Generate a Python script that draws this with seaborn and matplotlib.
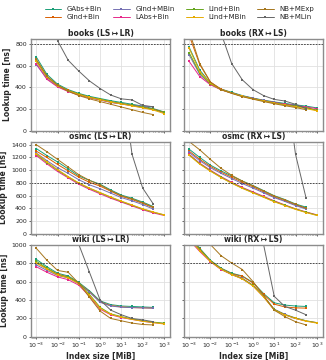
import numpy as np
import pandas as pd
import matplotlib
matplotlib.use("Agg")
import matplotlib.pyplot as plt
import seaborn as sns

nan = np.nan

# Index sizes [MiB] (half-decade grid)
sizes = [0.001, 0.00316, 0.01, 0.0316, 0.1, 0.316, 1, 3.16, 10, 31.6, 100, 316, 1000]

methods = ["GAbs+Bin", "GInd+Bin", "GInd+MBin", "LAbs+Bin",
           "LInd+Bin", "LInd+MBin", "NB+MExp", "NB+MLin"]

# Lookup time [ns] per panel
books_ls_lr = {
    "GAbs+Bin":  [680, 520, 430, 380, 345, 318, 298, 278, 262, 245, 228, 205, 175],
    "GInd+Bin":  [650, 500, 420, 372, 338, 310, 290, 268, 252, 236, 218, 200, 172],
    "GInd+MBin": [610, 480, 410, 365, 330, 305, 285, 262, 248, 238, 228, 222, nan],
    "LAbs+Bin":  [620, 475, 405, 362, 330, 305, 285, 264, 248, 232, 215, 198, 168],
    "LInd+Bin":  [640, 495, 418, 370, 336, 310, 290, 270, 252, 235, 218, 198, 170],
    "LInd+MBin": [645, 498, 415, 368, 335, 308, 288, 265, 248, 230, 212, 192, 160],
    "NB+MExp":   [660, 505, 420, 365, 325, 295, 270, 245, 220, 195, 170, 150, nan],
    "NB+MLin":   [nan, 1500, 830, 650, 550, 460, 390, 330, 295, 285, 235, 222, nan],
}
books_rx_ls = {
    "GAbs+Bin":  [770, 560, 440, 385, 355, 325, 302, 283, 267, 253, 240, 228, 212],
    "GInd+Bin":  [880, 610, 450, 385, 350, 320, 298, 278, 260, 245, 230, 215, 190],
    "GInd+MBin": [700, 520, 430, 380, 350, 322, 300, 280, 262, 248, 235, 220, nan],
    "LAbs+Bin":  [640, 500, 425, 378, 348, 320, 298, 278, 260, 246, 232, 220, 205],
    "LInd+Bin":  [720, 530, 435, 380, 350, 320, 298, 277, 258, 242, 228, 212, 190],
    "LInd+MBin": [760, 545, 438, 380, 348, 318, 295, 275, 255, 238, 222, 205, 185],
    "NB+MExp":   [920, 620, 450, 380, 345, 315, 292, 270, 250, 232, 215, 195, nan],
    "NB+MLin":   [nan, nan, 1800, 900, 620, 470, 380, 325, 290, 275, 245, 205, nan],
}
osmc_ls_lr = {
    "GAbs+Bin":  [1340, 1230, 1130, 1020, 910, 840, 780, 690, 610, 560, 500, 430, nan],
    "GInd+Bin":  [1300, 1200, 1090, 990, 890, 810, 750, 670, 590, 540, 480, 410, nan],
    "GInd+MBin": [1270, 1150, 1040, 950, 850, 770, 710, 640, 570, 520, 460, 390, nan],
    "LAbs+Bin":  [1230, 1100, 980, 880, 780, 700, 630, 560, 500, 440, 380, 330, 290],
    "LInd+Bin":  [1250, 1120, 1000, 895, 795, 715, 645, 575, 510, 450, 390, 340, 300],
    "LInd+MBin": [1260, 1130, 1010, 900, 800, 720, 650, 580, 515, 455, 395, 345, 300],
    "NB+MExp":   [1400, 1290, 1170, 1050, 930, 840, 770, 680, 600, 550, 490, 420, nan],
    "NB+MLin":   [nan, nan, nan, nan, nan, nan, nan, nan, 2500, 1250, 720, 470, nan],
}
osmc_rx_ls = {
    "GAbs+Bin":  [1330, 1200, 1080, 990, 910, 830, 760, 680, 600, 540, 470, 420, nan],
    "GInd+Bin":  [1300, 1170, 1060, 970, 890, 810, 740, 660, 580, 520, 455, 400, nan],
    "GInd+MBin": [1280, 1150, 1040, 950, 870, 790, 720, 645, 570, 510, 445, 390, nan],
    "LAbs+Bin":  [1250, 1110, 1000, 900, 810, 730, 660, 590, 520, 455, 395, 345, 300],
    "LInd+Bin":  [1240, 1100, 990, 890, 800, 720, 650, 580, 510, 450, 390, 340, 295],
    "LInd+MBin": [1235, 1095, 985, 885, 795, 715, 645, 575, 505, 445, 385, 335, 290],
    "NB+MExp":   [1450, 1320, 1170, 1030, 920, 830, 755, 675, 595, 535, 465, 405, nan],
    "NB+MLin":   [nan, nan, nan, nan, nan, nan, nan, nan, nan, 2500, 1250, 560, nan],
}
wiki_ls_lr = {
    "GAbs+Bin":  [840, 760, 690, 660, 590, 500, 390, 350, 335, 330, 325, 320, nan],
    "GInd+Bin":  [800, 740, 680, 650, 580, 490, 380, 340, 325, 318, 315, 312, nan],
    "GInd+MBin": [780, 720, 665, 640, 575, 485, 375, 335, 322, 318, 315, 312, nan],
    "LAbs+Bin":  [760, 700, 650, 620, 560, 440, 300, 240, 210, 190, 170, 155, 145],
    "LInd+Bin":  [820, 745, 675, 645, 585, 460, 320, 250, 220, 195, 175, 160, 150],
    "LInd+MBin": [800, 735, 670, 640, 575, 450, 310, 245, 215, 190, 170, 155, 140],
    "NB+MExp":   [960, 830, 720, 700, 580, 430, 280, 200, 175, 150, 135, 130, nan],
    "NB+MLin":   [nan, nan, nan, 2500, 1000, 700, 400, 290, 240, 200, 185, 165, nan],
}
wiki_rx_ls = {
    "GAbs+Bin":  [1100, 960, 830, 745, 690, 660, 590, 470, 370, 345, 335, 330, nan],
    "GInd+Bin":  [1090, 950, 825, 740, 685, 655, 585, 460, 355, 325, 315, 312, nan],
    "GInd+MBin": [1070, 940, 820, 735, 680, 635, 560, 440, 300, 245, 205, 175, nan],
    "LAbs+Bin":  [1050, 925, 815, 730, 675, 630, 555, 435, 295, 240, 200, 172, 155],
    "LInd+Bin":  [1080, 945, 825, 735, 678, 632, 558, 440, 298, 242, 203, 175, 155],
    "LInd+MBin": [1060, 935, 818, 732, 676, 628, 552, 432, 292, 238, 200, 170, 150],
    "NB+MExp":   [1300, 1150, 1000, 880, 800, 730, 600, 450, 290, 220, 165, 130, nan],
    "NB+MLin":   [nan, nan, nan, nan, nan, nan, 2500, 1000, 440, 330, 290, 240, nan],
}

panels = [
    ("books (LS\u2009\u21A6\u2009LR)", books_ls_lr), ("books (RX\u2009\u21A6\u2009LS)", books_rx_ls),
    ("osmc (LS\u2009\u21A6\u2009LR)", osmc_ls_lr), ("osmc (RX\u2009\u21A6\u2009LS)", osmc_rx_ls),
    ("wiki (LS\u2009\u21A6\u2009LR)", wiki_ls_lr), ("wiki (RX\u2009\u21A6\u2009LS)", wiki_rx_ls),
]
row_ylims = [(0, 850), (0, 1450), (0, 1000)]
row_yticks = [[0, 200, 400, 600, 800], [0, 200, 400, 600, 800, 1000, 1200, 1400],
              [0, 200, 400, 600, 800, 1000]]

sns.set_theme(style="whitegrid")
plt.rcParams["font.family"] = ["DejaVu Sans"]
plt.rcParams["axes.edgecolor"] = "0.55"
plt.rcParams["axes.linewidth"] = 1.0
plt.rcParams["grid.color"] = "0.88"
plt.rcParams["grid.linewidth"] = 0.6

palette = dict(zip(methods, sns.color_palette("Dark2", 8)))

fig, axes = plt.subplots(3, 2, figsize=(3.26, 3.60), dpi=100, sharex=True)
fig.subplots_adjust(left=0.095, right=0.99, top=0.893, bottom=0.064,
                    hspace=0.115, wspace=0.1)

for i, (title, pdata) in enumerate(panels):
    r, c = divmod(i, 2)
    ax = axes[r, c]
    rows = []
    for m in methods:
        for s, v in zip(sizes, pdata[m]):
            if not np.isnan(v):
                rows.append((m, s, v))
    df = pd.DataFrame(rows, columns=["method", "size", "time"])
    sns.lineplot(data=df, x="size", y="time", hue="method", hue_order=methods,
                 palette=palette, marker="s", markersize=1.8, markeredgewidth=0,
                 linewidth=0.7, estimator=None, sort=True, legend=False, ax=ax)
    ax.axhline(800, color="0.2", ls=(0, (2, 1.5)), lw=0.6)
    ax.set_xscale("log")
    ax.set_xlim(10 ** -3.25, 10 ** 3.28)
    ax.set_ylim(*row_ylims[r])
    ax.set_yticks(row_yticks[r])
    ax.set_title(title, fontsize=5.5, fontweight="bold", pad=1.5)
    ax.set_xticks([1e-3, 1e-2, 1e-1, 1e0, 1e1, 1e2, 1e3])
    ax.tick_params(axis="both", labelsize=4.5, length=1.5, pad=1.5, width=0.5)
    ax.tick_params(axis="x", which="minor", length=1, width=0.4, bottom=True)
    ax.tick_params(axis="x", bottom=True)
    ax.tick_params(axis="y", left=True)
    if c == 0:
        ax.set_ylabel("Lookup time [ns]", fontsize=5.5, fontweight="bold", labelpad=2)
    else:
        ax.set_ylabel("")
        ax.set_yticklabels([])
    if r == 2:
        ax.set_xlabel("Index size [MiB]", fontsize=5.5, fontweight="bold", labelpad=1)
    else:
        ax.set_xlabel("")

handles = axes[0, 0].get_lines()[:8]
fig.legend(handles, methods, ncol=4, loc="upper center", bbox_to_anchor=(0.55, 1.0),
           frameon=False, fontsize=5, handlelength=2.4, handletextpad=0.8,
           columnspacing=1.6, labelspacing=0.25)

fig.savefig("out.png", dpi=100)
